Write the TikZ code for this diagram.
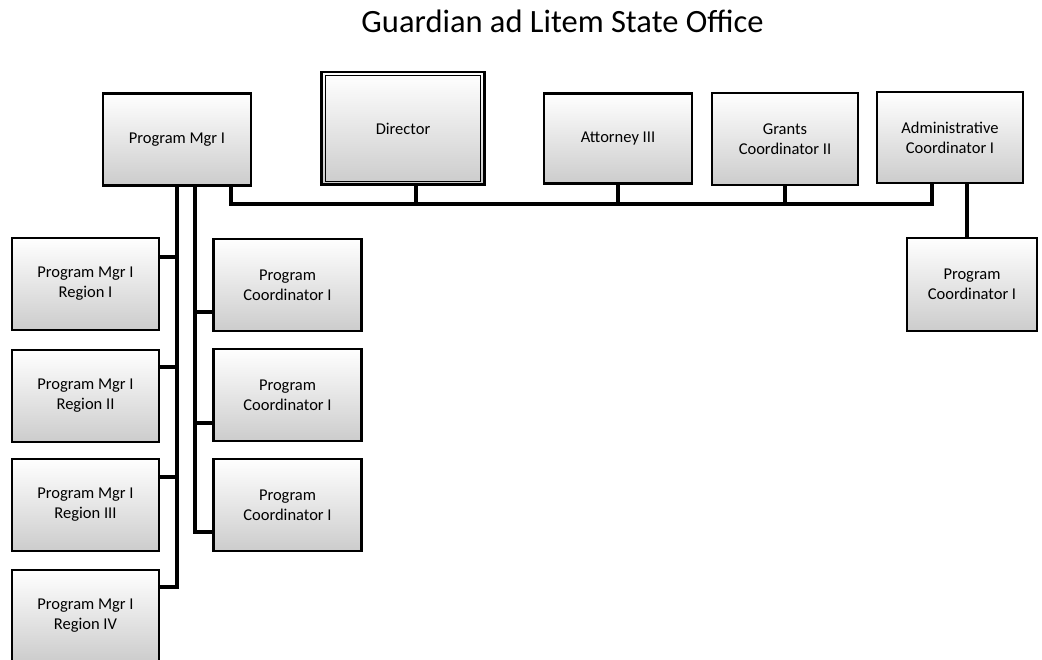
\documentclass[tikz,border=0pt]{standalone}
\usepackage{fontspec}
\setmainfont{Carlito}
\begin{document}
\begin{tikzpicture}[x=1pt,y=-1pt,
  box/.style={draw=black,line width=2.6pt,top color=white,middle color=black!4,bottom color=black!20,
    align=center,inner sep=2pt,font=\fontsize{16.5}{20}\selectfont},
  link/.style={line width=4pt,line cap=rect}]
\useasboundingbox (0,0) rectangle (1042,660);
% title
\node[font=\fontsize{32.5}{36}\selectfont,anchor=base] (title) at (562.5,33) {Guardian ad Litem State Office};
% top row
\node[box,minimum width=148pt,minimum height=92pt] (pm) at (177,139.5) {Program Mgr I};
\node[box,minimum width=160pt,minimum height=110pt,draw=none] (dir) at (403,128.5) {Director};
\draw[line width=2.6pt] (dir.south west) rectangle (dir.north east);
\draw[line width=0.8pt] ([shift={(3.5pt,3.5pt)}]dir.south west) rectangle ([shift={(-3.5pt,-3.5pt)}]dir.north east);
\node[box,minimum width=148pt,minimum height=90pt] (att) at (618,138.5) {Attorney III};
\node[box,minimum width=146pt,minimum height=92pt] (gr) at (785,139) {Grants\\Coordinator II};
\node[box,minimum width=146pt,minimum height=91pt] (adm) at (950,137.5) {Administrative\\Coordinator I};
\node[box,minimum width=130pt,minimum height=93pt] (pcr) at (972,284.5) {Program\\Coordinator I};
% left column: regional managers
\node[box,minimum width=147pt,minimum height=92pt] (r1) at (85.5,284) {Program Mgr I\\Region I};
\node[box,minimum width=147pt,minimum height=92pt] (r2) at (85.5,396) {Program Mgr I\\Region II};
\node[box,minimum width=147pt,minimum height=92pt] (r3) at (85.5,505) {Program Mgr I\\Region III};
\node[box,minimum width=147pt,minimum height=92pt] (r4) at (85.5,616) {Program Mgr I\\Region IV};
% middle column: program coordinators
\node[box,minimum width=148pt,minimum height=92pt] (c1) at (287.5,285) {Program\\Coordinator I};
\node[box,minimum width=148pt,minimum height=92pt] (c2) at (287.5,395) {Program\\Coordinator I};
\node[box,minimum width=148pt,minimum height=92pt] (c3) at (287.5,505) {Program\\Coordinator I};
% staff bus
\coordinate (busL) at (231,204);
\coordinate (busR) at (932,204);
\draw[link] (pm.south -| busL) -- (busL) -- (busR) -- (adm.south -| busR);
\draw[link] (dir.south -| 416,0) -- (416,204);
\draw[link] (att.south) -- (att.south |- busL);
\draw[link] (gr.south) -- (gr.south |- busL);
\draw[link] (adm.south -| 967,0) -- (pcr.north -| 967,0);
% regional manager trunk
\draw[link] (pm.south -| 177,0) -- (177,587) -- (r4.east |- 0,587);
\draw[link] (177,257) -- (r1.east |- 0,257);
\draw[link] (177,367) -- (r2.east |- 0,367);
\draw[link] (177,477) -- (r3.east |- 0,477);
% program coordinator trunk
\draw[link] (pm.south -| 195,0) -- (195,532) -- (c3.west |- 0,532);
\draw[link] (195,312) -- (c1.west |- 0,312);
\draw[link] (195,423) -- (c2.west |- 0,423);
\end{tikzpicture}
\end{document}
